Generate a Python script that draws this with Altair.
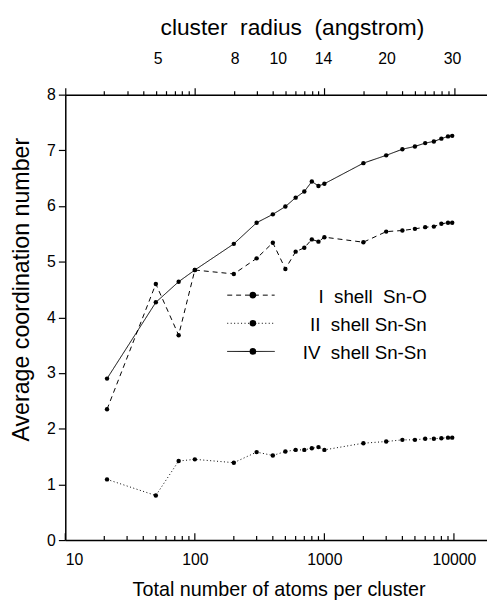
import altair as alt
import pandas as pd

# ---------------- data ----------------
atoms = [21, 50, 75, 100, 200, 300, 400, 500, 600, 700, 800, 900, 1000,
         2000, 3000, 4000, 5000, 6000, 7000, 8000, 9000, 9700]
shell_I = [2.35, 4.60, 3.68, 4.85, 4.78, 5.06, 5.34, 4.87, 5.18, 5.25, 5.40,
           5.36, 5.44, 5.35, 5.54, 5.56, 5.59, 5.62, 5.63, 5.68, 5.70, 5.70]
shell_II = [1.09, 0.80, 1.42, 1.45, 1.39, 1.58, 1.52, 1.59, 1.62, 1.62, 1.65,
            1.67, 1.62, 1.74, 1.77, 1.80, 1.80, 1.82, 1.82, 1.83, 1.84, 1.84]
shell_IV = [2.90, 4.27, 4.64, 4.85, 5.32, 5.70, 5.85, 5.99, 6.15, 6.26, 6.44,
            6.36, 6.40, 6.77, 6.91, 7.02, 7.07, 7.13, 7.16, 7.21, 7.25, 7.26]
NB = "\u00a0"
series_names = ["I" + NB * 2 + "shell" + NB * 2 + "Sn-O",
                "II" + NB * 2 + "shell Sn-Sn",
                "IV" + NB * 2 + "shell Sn-Sn"]

radius_labels = ["5", "8", "10", "14", "20", "30"]
radius_atoms = [52, 205, 440, 985, 3040, 9770]

x_major = [10, 100, 1000, 10000]
x_minor = [20, 30, 40, 50, 60, 70, 80, 90,
           200, 300, 400, 500, 600, 700, 800, 900,
           2000, 3000, 4000, 5000, 6000, 7000, 8000, 9000]
y_ticks = [0, 0.5, 1, 1.5, 2, 2.5, 3, 3.5, 4, 4.5, 5, 5.5, 6, 6.5, 7, 7.5, 8]

# --------------- frames ---------------
rows = []
for name, vals in zip(series_names, [shell_I, shell_II, shell_IV]):
    for a, v in zip(atoms, vals):
        rows.append({"atoms": a, "value": v, "series": name})
df = pd.DataFrame(rows)

W, H = 427, 451
FONT = "Liberation Sans"
dashes = [[5, 4], [1, 2.5], [1, 0]]

xs = alt.Scale(type="log", domain=[10, 18000], nice=False)
ys = alt.Scale(domain=[0, 8], nice=False)

bottom_axis = alt.Axis(
    orient="bottom", values=x_major, format="d", ticks=False, grid=False,
    domainColor="black", domainWidth=1.5, labelColor="black",
    labelFontSize=16, labelFont=FONT, labelPadding=12,
    title="Total number of atoms per cluster", titleFont=FONT,
    titleFontSize=20, titleFontWeight="normal", titleColor="black",
    titleX=216, titleY=50, titleBaseline="middle", titleAlign="center",
)
left_axis = alt.Axis(
    orient="left", values=y_ticks, grid=False, format="d",
    labelExpr="datum.value % 1 ? '' : format(datum.value, 'd')",
    tickSize={"condition": {"test": "datum.value % 1 != 0", "value": 4}, "value": 7},
    tickColor="black", tickWidth=1.2,
    domainColor="black", domainWidth=1.5, labelColor="black",
    labelFontSize=16, labelFont=FONT, labelPadding=3,
    title="Average coordination number", titleFont=FONT, titleFontSize=23.5,
    titleFontWeight="normal", titleColor="black",
    titleX=-44, titleY=197, titleBaseline="middle", titleAlign="center",
    titleAngle=270,
)
top_axis = alt.Axis(
    orient="top", values=x_major + x_minor, labels=False, grid=False,
    tickSize={"condition": {"test": "indexof([10,100,1000,10000], datum.value) < 0",
                            "value": 4}, "value": 7},
    tickColor="black", tickWidth=1.2,
    domainColor="black", domainWidth=1.5, title=None,
)

dash_scale = alt.Scale(domain=series_names, range=dashes)

lines = alt.Chart(df).mark_line(color="black", strokeWidth=1).encode(
    x=alt.X("atoms:Q", scale=xs, axis=bottom_axis),
    y=alt.Y("value:Q", scale=ys, axis=left_axis),
    strokeDash=alt.StrokeDash("series:N", scale=dash_scale, legend=None),
    detail="series:N",
)
points = alt.Chart(df).mark_circle(color="black", size=20, opacity=1).encode(
    x=alt.X("atoms:Q", scale=xs, axis=None),
    y=alt.Y("value:Q", scale=ys, axis=None),
)
top = alt.Chart(df).mark_point(opacity=0).encode(
    x=alt.X("atoms:Q", scale=xs, axis=top_axis),
)

tick_major_df = pd.DataFrame({"v": x_major})
tick_minor_df = pd.DataFrame({"v": x_minor})
bt_major = alt.Chart(tick_major_df).mark_rule(color="black", strokeWidth=1.2).encode(
    x=alt.X("v:Q", scale=xs, axis=None), y=alt.value(H), y2=alt.value(H - 7))
bt_minor = alt.Chart(tick_minor_df).mark_rule(color="black", strokeWidth=1.2).encode(
    x=alt.X("v:Q", scale=xs, axis=None), y=alt.value(H), y2=alt.value(H - 4))

rad_df = pd.DataFrame({"n": radius_atoms, "lab": radius_labels})
rad_text = alt.Chart(rad_df).mark_text(
    font=FONT, fontSize=16, color="black", baseline="middle", align="center"
).encode(x=alt.X("n:Q", scale=xs, axis=None), y=alt.value(-36), text="lab:N")

top_title = alt.Chart(pd.DataFrame({"t": ["cluster" + NB * 2 + "radius" + NB * 2 + "(angstrom)"]})).mark_text(
    font=FONT, fontSize=23, color="black", baseline="middle", align="center"
).encode(x=alt.value(230), y=alt.value(-67), text="t:N")

legend_layers = []
for i, name in enumerate(series_names):
    yy = 203 + i * 28.5
    one = pd.DataFrame({"name": [name]})
    legend_layers.append(alt.Chart(one).mark_rule(
        color="black", strokeWidth=1, strokeDash=dashes[i]
    ).encode(x=alt.value(164), x2=alt.value(212), y=alt.value(yy)))
    legend_layers.append(alt.Chart(one).mark_circle(
        color="black", size=45, opacity=1
    ).encode(x=alt.value(190), y=alt.value(yy)))
    legend_layers.append(alt.Chart(one).mark_text(
        font=FONT, fontSize=19, color="black", align="right", baseline="middle"
    ).encode(x=alt.value(366), y=alt.value(yy + 2), text="name:N"))

chart = alt.layer(
    lines, top, points, bt_major, bt_minor, rad_text, top_title, *legend_layers
).resolve_axis(x="independent", y="independent").properties(
    width=W, height=H,
    padding={"left": 58, "top": 84, "right": 0, "bottom": 62},
    autosize=alt.AutoSizeParams(type="none"),
).configure_view(stroke=None).configure_axis(grid=False).configure(background="white")

chart.save("out.html", embed_options={"renderer": "svg", "actions": False})
